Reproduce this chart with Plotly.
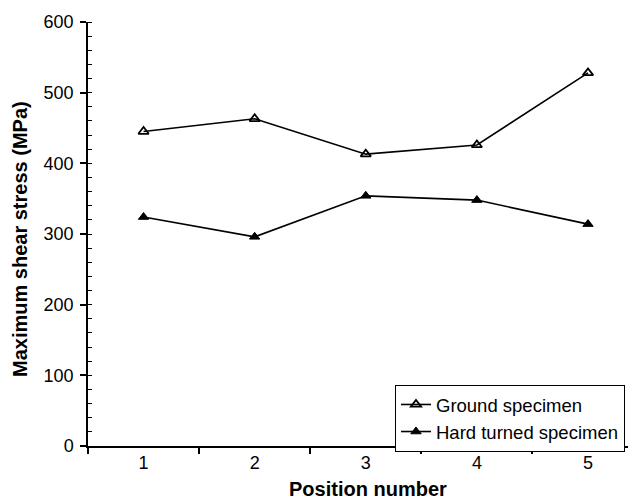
import plotly.graph_objects as go

positions = ["1", "2", "3", "4", "5"]
ground = [445, 463, 413, 426, 528]
hard_turned = [324, 296, 354, 348, 314]
y_ticks = [0, 100, 200, 300, 400, 500, 600]

FONT = "Liberation Sans, Arial, sans-serif"

fig = go.Figure()
fig.add_trace(go.Scatter(
    x=positions, y=ground, mode="lines+markers", name="Ground specimen",
    line=dict(color="black", width=1.6),
    marker=dict(symbol="triangle-up-open", size=9, color="black", line=dict(width=1.8, color="black")),
))
fig.add_trace(go.Scatter(
    x=positions, y=hard_turned, mode="lines+markers", name="Hard turned specimen",
    line=dict(color="black", width=1.6),
    marker=dict(symbol="triangle-up", size=9, color="black", line=dict(width=1, color="black")),
))

fig.update_layout(
    width=628, height=501,
    margin=dict(l=88, r=0, t=22, b=55),
    paper_bgcolor="white", plot_bgcolor="white",
    font=dict(family=FONT, size=18, color="black"),
    showlegend=True,
    legend=dict(
        x=0.5685, y=0.144, xanchor="left", yanchor="top",
        bordercolor="black", borderwidth=1, bgcolor="white",
        font=dict(family=FONT, size=18.5, color="black"),
        tracegroupgap=0, itemwidth=30,
    ),
    xaxis=dict(
        type="category", range=[-0.5, 4.36], tickson="boundaries",
        showline=True, linecolor="black", linewidth=1.5,
        ticks="outside", ticklen=6, tickcolor="black", tickwidth=1.5,
        showgrid=False, zeroline=False,
        tickfont=dict(family=FONT, size=18, color="black"),
    ),
    yaxis=dict(
        range=[0, 600], tickvals=y_ticks,
        showline=True, linecolor="black", linewidth=1.5,
        ticks="outside", ticklen=6, tickcolor="black", tickwidth=1.5,
        showgrid=False, zeroline=False,
        minor=dict(ticks="inside", ticklen=4, tickcolor="black", tickwidth=1.2, dtick=20, showgrid=False),
        tickfont=dict(family=FONT, size=18, color="black"),
        ticklabelstandoff=3,
    ),
    annotations=[
        dict(text="<b>Position number</b>", xref="paper", yref="paper",
             x=(368 - 88) / 540, y=-(489 - 446) / 424, xanchor="center", yanchor="middle",
             showarrow=False, font=dict(family=FONT, size=20, color="black")),
        dict(text="<b>Maximum shear stress (MPa)</b>", xref="paper", yref="paper",
             x=(20 - 88) / 540, y=(446 - 239) / 424, xanchor="center", yanchor="middle",
             textangle=-90, showarrow=False, font=dict(family=FONT, size=20, color="black")),
    ],
)

fig.write_html("out.html")
